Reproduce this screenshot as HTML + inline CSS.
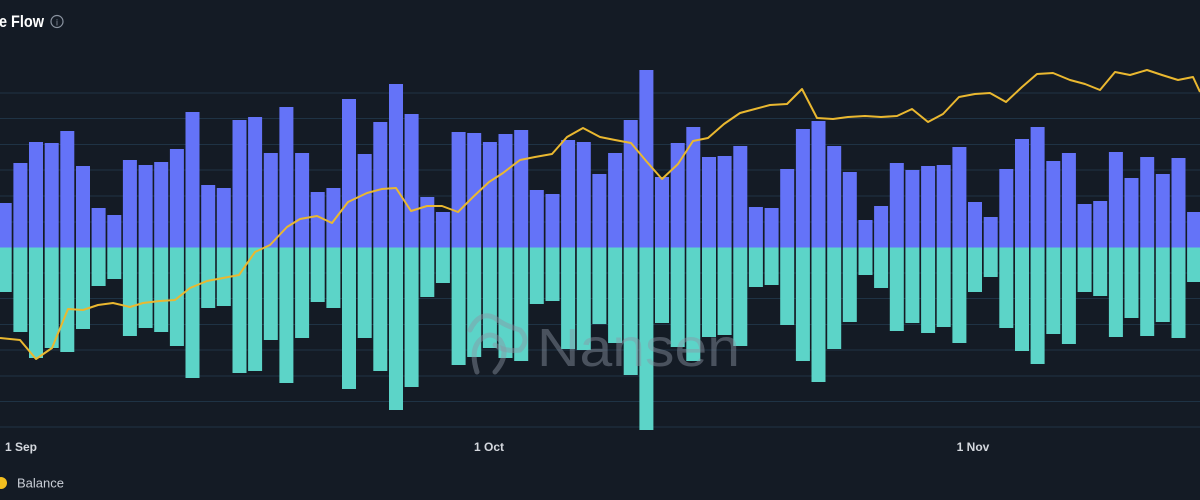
<!DOCTYPE html>
<html><head><meta charset="utf-8"><style>
html,body{margin:0;padding:0;background:#141b25;width:1200px;height:500px;overflow:hidden}
svg{display:block}
</style></head><body>
<svg width="1200" height="500" viewBox="0 0 1200 500" xmlns="http://www.w3.org/2000/svg" font-family="Liberation Sans, sans-serif">
<rect width="1200" height="500" fill="#141b25"/>
<text x="-1" y="27" fill="#ffffff" font-size="16.5" font-weight="bold" textLength="45" lengthAdjust="spacingAndGlyphs">e Flow</text>
<circle cx="57" cy="21.5" r="6" fill="none" stroke="#8a93a0" stroke-width="1.2"/>
<text x="57" y="25.5" fill="#8a93a0" font-size="9" text-anchor="middle">i</text>
<g stroke="#1f3345" stroke-width="1">
<line x1="0" x2="1200" y1="93" y2="93"/><line x1="0" x2="1200" y1="118.5" y2="118.5"/><line x1="0" x2="1200" y1="144.5" y2="144.5"/><line x1="0" x2="1200" y1="170" y2="170"/><line x1="0" x2="1200" y1="196" y2="196"/><line x1="0" x2="1200" y1="222" y2="222"/><line x1="0" x2="1200" y1="273" y2="273"/><line x1="0" x2="1200" y1="298.5" y2="298.5"/><line x1="0" x2="1200" y1="324.5" y2="324.5"/><line x1="0" x2="1200" y1="350" y2="350"/><line x1="0" x2="1200" y1="376" y2="376"/><line x1="0" x2="1200" y1="401.5" y2="401.5"/><line x1="0" x2="1200" y1="427" y2="427"/>
</g>
<g fill="#6473f8">
<rect x="-2.3" y="203" width="14" height="44.5"/><rect x="13.4" y="163" width="14" height="84.5"/><rect x="29.0" y="142" width="14" height="105.5"/><rect x="44.7" y="143" width="14" height="104.5"/><rect x="60.3" y="131" width="14" height="116.5"/><rect x="76.0" y="166" width="14" height="81.5"/><rect x="91.6" y="208" width="14" height="39.5"/><rect x="107.3" y="215" width="14" height="32.5"/><rect x="122.9" y="160" width="14" height="87.5"/><rect x="138.6" y="165" width="14" height="82.5"/><rect x="154.2" y="162" width="14" height="85.5"/><rect x="169.9" y="149" width="14" height="98.5"/><rect x="185.5" y="112" width="14" height="135.5"/><rect x="201.2" y="185" width="14" height="62.5"/><rect x="216.8" y="188" width="14" height="59.5"/><rect x="232.5" y="120" width="14" height="127.5"/><rect x="248.1" y="117" width="14" height="130.5"/><rect x="263.8" y="153" width="14" height="94.5"/><rect x="279.4" y="107" width="14" height="140.5"/><rect x="295.1" y="153" width="14" height="94.5"/>
<rect x="310.7" y="192" width="14" height="55.5"/><rect x="326.4" y="188" width="14" height="59.5"/><rect x="342.0" y="99" width="14" height="148.5"/><rect x="357.7" y="154" width="14" height="93.5"/><rect x="373.3" y="122" width="14" height="125.5"/><rect x="389.0" y="84" width="14" height="163.5"/><rect x="404.6" y="114" width="14" height="133.5"/><rect x="420.3" y="197" width="14" height="50.5"/><rect x="435.9" y="212" width="14" height="35.5"/><rect x="451.6" y="132" width="14" height="115.5"/><rect x="467.2" y="133" width="14" height="114.5"/><rect x="482.9" y="142" width="14" height="105.5"/><rect x="498.5" y="134" width="14" height="113.5"/><rect x="514.2" y="130" width="14" height="117.5"/><rect x="529.8" y="190" width="14" height="57.5"/><rect x="545.5" y="194" width="14" height="53.5"/><rect x="561.1" y="140" width="14" height="107.5"/><rect x="576.8" y="142" width="14" height="105.5"/><rect x="592.4" y="174" width="14" height="73.5"/>
<rect x="608.1" y="153" width="14" height="94.5"/><rect x="623.7" y="120" width="14" height="127.5"/><rect x="639.4" y="70" width="14" height="177.5"/><rect x="655.0" y="177" width="14" height="70.5"/><rect x="670.7" y="143" width="14" height="104.5"/><rect x="686.3" y="127" width="14" height="120.5"/><rect x="702.0" y="157" width="14" height="90.5"/><rect x="717.6" y="156" width="14" height="91.5"/><rect x="733.3" y="146" width="14" height="101.5"/><rect x="748.9" y="207" width="14" height="40.5"/><rect x="764.6" y="208" width="14" height="39.5"/><rect x="780.2" y="169" width="14" height="78.5"/><rect x="795.9" y="129" width="14" height="118.5"/><rect x="811.5" y="121" width="14" height="126.5"/><rect x="827.2" y="146" width="14" height="101.5"/><rect x="842.8" y="172" width="14" height="75.5"/><rect x="858.5" y="220" width="14" height="27.5"/><rect x="874.1" y="206" width="14" height="41.5"/><rect x="889.8" y="163" width="14" height="84.5"/>
<rect x="905.4" y="170" width="14" height="77.5"/><rect x="921.1" y="166" width="14" height="81.5"/><rect x="936.7" y="165" width="14" height="82.5"/><rect x="952.4" y="147" width="14" height="100.5"/><rect x="968.0" y="202" width="14" height="45.5"/><rect x="983.7" y="217" width="14" height="30.5"/><rect x="999.3" y="169" width="14" height="78.5"/><rect x="1015.0" y="139" width="14" height="108.5"/><rect x="1030.6" y="127" width="14" height="120.5"/><rect x="1046.3" y="161" width="14" height="86.5"/><rect x="1061.9" y="153" width="14" height="94.5"/><rect x="1077.6" y="204" width="14" height="43.5"/><rect x="1093.2" y="201" width="14" height="46.5"/><rect x="1108.9" y="152" width="14" height="95.5"/><rect x="1124.5" y="178" width="14" height="69.5"/><rect x="1140.2" y="157" width="14" height="90.5"/><rect x="1155.8" y="174" width="14" height="73.5"/><rect x="1171.5" y="158" width="14" height="89.5"/><rect x="1187.1" y="212" width="14" height="35.5"/>
</g>
<g fill="#5cd4c8">
<rect x="-2.3" y="247.5" width="14" height="44.5"/><rect x="13.4" y="247.5" width="14" height="84.5"/><rect x="29.0" y="247.5" width="14" height="110.5"/><rect x="44.7" y="247.5" width="14" height="100.5"/><rect x="60.3" y="247.5" width="14" height="104.5"/><rect x="76.0" y="247.5" width="14" height="81.5"/><rect x="91.6" y="247.5" width="14" height="38.5"/><rect x="107.3" y="247.5" width="14" height="31.5"/><rect x="122.9" y="247.5" width="14" height="88.5"/><rect x="138.6" y="247.5" width="14" height="80.5"/><rect x="154.2" y="247.5" width="14" height="84.5"/><rect x="169.9" y="247.5" width="14" height="98.5"/><rect x="185.5" y="247.5" width="14" height="130.5"/><rect x="201.2" y="247.5" width="14" height="60.5"/><rect x="216.8" y="247.5" width="14" height="58.5"/><rect x="232.5" y="247.5" width="14" height="125.5"/><rect x="248.1" y="247.5" width="14" height="123.5"/><rect x="263.8" y="247.5" width="14" height="92.5"/><rect x="279.4" y="247.5" width="14" height="135.5"/><rect x="295.1" y="247.5" width="14" height="90.5"/>
<rect x="310.7" y="247.5" width="14" height="54.5"/><rect x="326.4" y="247.5" width="14" height="60.5"/><rect x="342.0" y="247.5" width="14" height="141.5"/><rect x="357.7" y="247.5" width="14" height="90.5"/><rect x="373.3" y="247.5" width="14" height="123.5"/><rect x="389.0" y="247.5" width="14" height="162.5"/><rect x="404.6" y="247.5" width="14" height="139.5"/><rect x="420.3" y="247.5" width="14" height="49.5"/><rect x="435.9" y="247.5" width="14" height="35.5"/><rect x="451.6" y="247.5" width="14" height="117.5"/><rect x="467.2" y="247.5" width="14" height="109.5"/><rect x="482.9" y="247.5" width="14" height="100.5"/><rect x="498.5" y="247.5" width="14" height="110.5"/><rect x="514.2" y="247.5" width="14" height="113.5"/><rect x="529.8" y="247.5" width="14" height="56.5"/><rect x="545.5" y="247.5" width="14" height="53.5"/><rect x="561.1" y="247.5" width="14" height="101.5"/><rect x="576.8" y="247.5" width="14" height="102.5"/><rect x="592.4" y="247.5" width="14" height="76.5"/>
<rect x="608.1" y="247.5" width="14" height="95.5"/><rect x="623.7" y="247.5" width="14" height="127.5"/><rect x="639.4" y="247.5" width="14" height="182.5"/><rect x="655.0" y="247.5" width="14" height="75.5"/><rect x="670.7" y="247.5" width="14" height="99.5"/><rect x="686.3" y="247.5" width="14" height="113.5"/><rect x="702.0" y="247.5" width="14" height="89.5"/><rect x="717.6" y="247.5" width="14" height="87.5"/><rect x="733.3" y="247.5" width="14" height="98.5"/><rect x="748.9" y="247.5" width="14" height="39.5"/><rect x="764.6" y="247.5" width="14" height="37.5"/><rect x="780.2" y="247.5" width="14" height="77.5"/><rect x="795.9" y="247.5" width="14" height="113.5"/><rect x="811.5" y="247.5" width="14" height="134.5"/><rect x="827.2" y="247.5" width="14" height="101.5"/><rect x="842.8" y="247.5" width="14" height="74.5"/><rect x="858.5" y="247.5" width="14" height="27.5"/><rect x="874.1" y="247.5" width="14" height="40.5"/><rect x="889.8" y="247.5" width="14" height="83.5"/>
<rect x="905.4" y="247.5" width="14" height="75.5"/><rect x="921.1" y="247.5" width="14" height="85.5"/><rect x="936.7" y="247.5" width="14" height="79.5"/><rect x="952.4" y="247.5" width="14" height="95.5"/><rect x="968.0" y="247.5" width="14" height="44.5"/><rect x="983.7" y="247.5" width="14" height="29.5"/><rect x="999.3" y="247.5" width="14" height="80.5"/><rect x="1015.0" y="247.5" width="14" height="103.5"/><rect x="1030.6" y="247.5" width="14" height="116.5"/><rect x="1046.3" y="247.5" width="14" height="86.5"/><rect x="1061.9" y="247.5" width="14" height="96.5"/><rect x="1077.6" y="247.5" width="14" height="44.5"/><rect x="1093.2" y="247.5" width="14" height="48.5"/><rect x="1108.9" y="247.5" width="14" height="89.5"/><rect x="1124.5" y="247.5" width="14" height="70.5"/><rect x="1140.2" y="247.5" width="14" height="88.5"/><rect x="1155.8" y="247.5" width="14" height="74.5"/><rect x="1171.5" y="247.5" width="14" height="90.5"/><rect x="1187.1" y="247.5" width="14" height="34.5"/>
</g>
<g fill="none" stroke="rgba(140,150,165,0.45)" stroke-width="5" stroke-linecap="round">
<path d="M477 372 Q470 350 480 340 Q490 330 500 340 Q510 355 495 372"/>
<path d="M470 330 Q480 310 495 318 Q505 326 520 330 Q530 340 520 350 Q505 352 495 345"/>
</g>
<text x="537" y="366" fill="rgba(140,150,165,0.45)" font-size="54" textLength="203" lengthAdjust="spacingAndGlyphs">Nansen</text>
<polyline fill="none" stroke="#eab830" stroke-width="2" stroke-linejoin="round" points="0,338 20,340 36,359 52,348 68,309 83,310 98,305 113,303 130,307 143,303 160,301 175,300 190,288 207,281 223,278 239,275 255,252 270,245 287,227 300,219 317,216 332,223 348,202 367,193 382,189 396,188 411,211 427,206 442,206 458,212 473,197 489,182 503,173 520,160 535,157 552,154 567,137 583,128 600,137 615,140 631,143 647,162 662,179 678,164 693,141 708,138 724,124 740,113 755,109 770,105 787,104 802,89 817,118 833,119 848,117 865,116 881,117 897,116 912,109 928,122 943,114 959,97 975,94 990,93 1006,102 1022,87 1037,74 1053,73 1070,80 1085,84 1100,90 1115,72 1130,75 1147,70 1162,75 1178,80 1193,77 1200,92"/>
<g fill="#d4d8de" font-size="12" font-weight="bold">
<text x="5" y="451">1 Sep</text>
<text x="489" y="451" text-anchor="middle">1 Oct</text>
<text x="973" y="451" text-anchor="middle">1 Nov</text>
</g>
<circle cx="1" cy="483" r="6" fill="#f4bf1f"/>
<text x="17" y="487.5" fill="#c9ced6" font-size="13">Balance</text>
</svg>
</body></html>
